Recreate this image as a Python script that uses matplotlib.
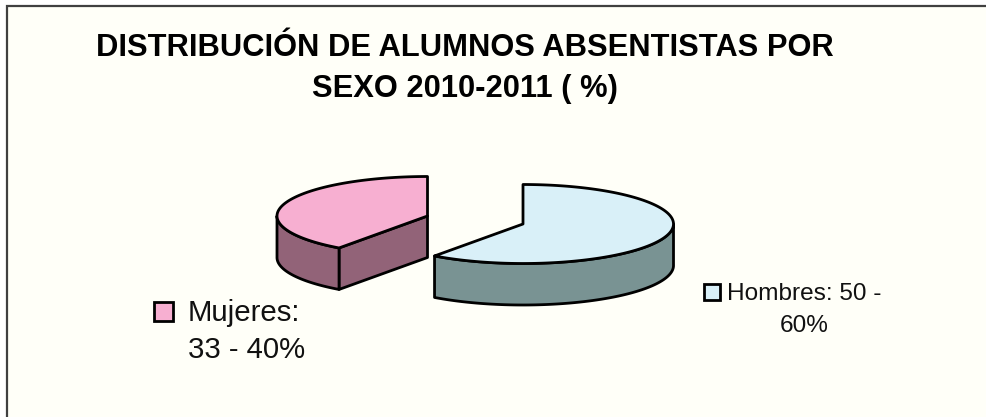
import numpy as np
import matplotlib
matplotlib.use("Agg")
import matplotlib.pyplot as plt
from matplotlib.patches import Polygon, Rectangle

plt.rcParams['font.family'] = ['Liberation Sans', 'DejaVu Sans']

title_lines = ["DISTRIBUCIÓN DE ALUMNOS ABSENTISTAS POR", "SEXO 2010-2011 ( %)"]
categories = ["Hombres", "Mujeres"]
values = [60, 40]
label_hombres = ["Hombres: 50 -", "60%"]
label_mujeres = ["Mujeres:", "33 - 40%"]
top_colors = ["#D9F0F8", "#F7AFD1"]
side_colors = ["#799393", "#926378"]
centers = [(523, 224), (427.5, 216)]

RX, RY, DEPTH = 150.5, 39.5, 41.5
W, H = 986, 417

fig = plt.figure(figsize=(W / 100, H / 100), dpi=100, facecolor="white")
ax = fig.add_axes([0, 0, 1, 1])
ax.set_xlim(0, W)
ax.set_ylim(H, 0)
ax.axis("off")

ax.add_patch(Rectangle((7, 6), W, H, facecolor="#FFFFF8", edgecolor="#404040", lw=1.6, zorder=0))


def rim(cx, cy, a0, a1, dy=0.0):
    t = np.radians(np.linspace(a0, a1, 160))
    return np.column_stack([cx + RX * np.sin(t), cy - RY * np.cos(t) + dy])


def draw_slice(center, a0, a1, top, side):
    cx, cy = center
    v0, v1 = max(a0, 90), min(a1, 270)
    if v1 > v0:
        up = rim(cx, cy, v0, v1)
        down = rim(cx, cy, v0, v1, DEPTH)[::-1]
        ax.add_patch(Polygon(np.vstack([up, down]), closed=True, fc=side, ec="black", lw=2, joinstyle="round", zorder=3))
    if a0 > 180:
        p = rim(cx, cy, a0, a0)[0]
        ax.add_patch(Polygon([(cx, cy), p, (p[0], p[1] + DEPTH), (cx, cy + DEPTH)], closed=True,
                             fc=side, ec="black", lw=2, joinstyle="round", zorder=2))
    arc = rim(cx, cy, a0, a1)
    ax.add_patch(Polygon(np.vstack([[cx, cy], arc]), closed=True, fc=top, ec="black", lw=2,
                         joinstyle="round", zorder=4))


start = 0.0
for i, v in enumerate(values):
    end = start + 360.0 * v / sum(values)
    draw_slice(centers[i], start, end, top_colors[i], side_colors[i])
    start = end

for line, y in zip(title_lines, [56, 97]):
    ax.text(464.5, y, line, ha="center", va="baseline", fontsize=22.25, fontweight="bold", color="black")

ax.add_patch(Rectangle((154, 302), 19, 19, fc=top_colors[1], ec="black", lw=2, zorder=5))
for line, y in zip(label_mujeres, [321, 358]):
    ax.text(187.5, y, line, ha="left", va="baseline", fontsize=21.2, color="#111111")

ax.add_patch(Rectangle((704, 284), 16, 16, fc=top_colors[0], ec="black", lw=2, zorder=5))
for line, y in zip(label_hombres, [300, 332]):
    ax.text(804, y, line, ha="center", va="baseline", fontsize=17.6, color="#111111")

fig.savefig("out.png", dpi=100, facecolor="white")
